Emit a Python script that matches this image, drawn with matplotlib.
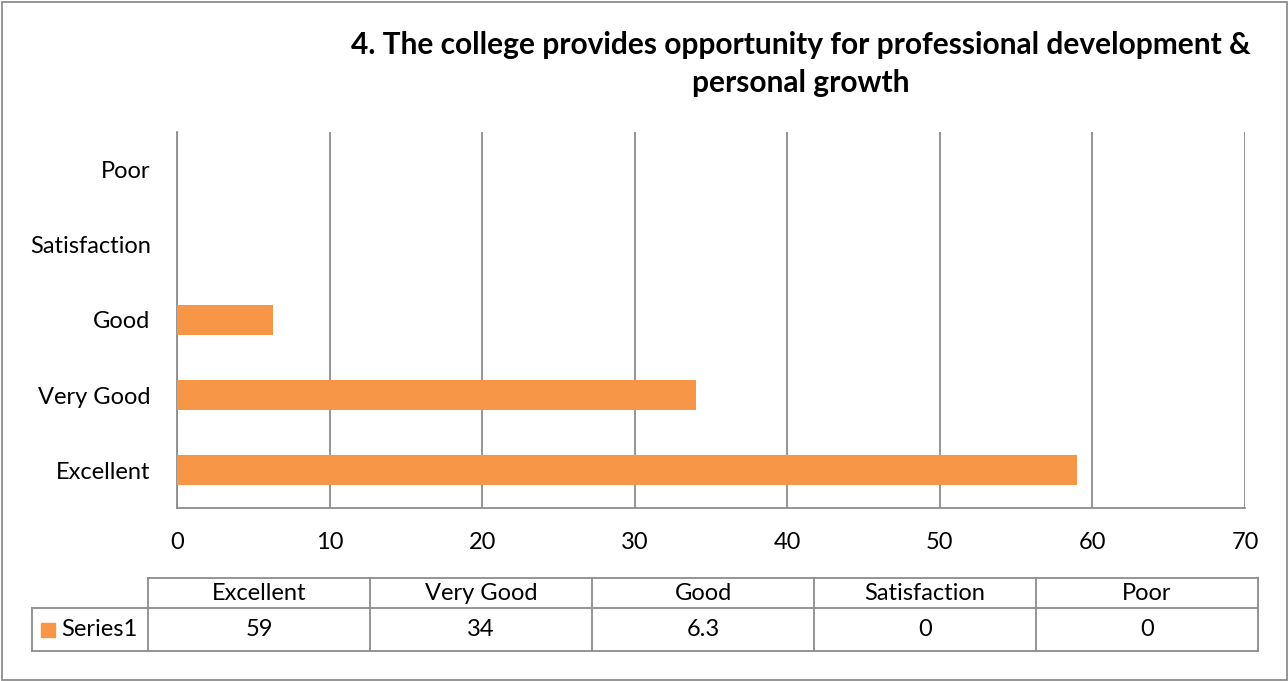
import matplotlib
matplotlib.use("Agg")
import matplotlib.pyplot as plt
from matplotlib.patches import Rectangle
from matplotlib.lines import Line2D

categories = ["Excellent", "Very Good", "Good", "Satisfaction", "Poor"]
values = [59, 34, 6.3, 0, 0]
value_labels = ["59", "34", "6.3", "0", "0"]
series_name = "Series1"
title = "4. The college provides opportunity for professional development &\npersonal growth"

W, H = 1288, 681
plt.rcParams['font.family'] = ['Lato', 'DejaVu Sans']
fig = plt.figure(figsize=(W / 100, H / 100), dpi=100)
orange = "#F79646"
gray = "#8C8C8C"
fs = 17

def fx(px):
    return px / W

def fy(py):
    return 1 - py / H

ax = fig.add_axes([fx(177), fy(508), fx(1245) - fx(177), fy(132) - fy(508)])
ax.barh(range(len(categories)), values, height=0.4, color=orange, zorder=3)
ax.set_xlim(0, 70)
ax.set_ylim(-0.5, len(categories) - 0.5)
ax.set_xticks(range(0, 71, 10))
ax.set_yticks(range(len(categories)))
ax.set_yticklabels(categories)
ax.xaxis.grid(True, color=gray, linewidth=1.3, zorder=0)
for s in ["top", "right"]:
    ax.spines[s].set_visible(False)
for s in ["left", "bottom"]:
    ax.spines[s].set_color(gray)
    ax.spines[s].set_linewidth(1.3)
ax.tick_params(axis='both', length=0, labelsize=fs, colors='black')
ax.tick_params(axis='x', pad=17)
ax.tick_params(axis='y', pad=19)

fig.text(fx(801), fy(64), title, ha='center', va='center', fontsize=21.5,
         fontweight='bold', linespacing=1.42)

# data table
col_edges = [148, 370, 592, 814, 1036, 1258]
row_top, row_mid, row_bot = 578, 608, 651
lw = 1.3
def hline(y, x0, x1):
    fig.add_artist(Line2D([fx(x0), fx(x1)], [fy(y), fy(y)], color=gray, lw=lw))
def vline(x, y0, y1):
    fig.add_artist(Line2D([fx(x), fx(x)], [fy(y0), fy(y1)], color=gray, lw=lw))
hline(row_top, col_edges[0], col_edges[-1])
hline(row_mid, 32, col_edges[-1])
hline(row_bot, 32, col_edges[-1])
vline(32, row_mid, row_bot)
for x in col_edges:
    vline(x, row_top, row_bot)
for i, (c, v) in enumerate(zip(categories, value_labels)):
    cx = (col_edges[i] + col_edges[i + 1]) / 2
    fig.text(fx(cx), fy((row_top + row_mid) / 2 + 1), c, ha='center', va='center', fontsize=fs)
    fig.text(fx(cx), fy((row_mid + row_bot) / 2), v, ha='center', va='center', fontsize=fs)
fig.add_artist(Rectangle((fx(41), fy(637)), fx(14), fy(623) - fy(637), color=orange,
                         transform=fig.transFigure))
fig.text(fx(61), fy((row_mid + row_bot) / 2), series_name, ha='left', va='center', fontsize=fs)

# outer border
fig.add_artist(Rectangle((fx(1.5), fy(679.5)), fx(1285), fy(1.5) - fy(679.5), fill=False,
                         edgecolor=gray, lw=1.3, transform=fig.transFigure))

fig.savefig("out.png", dpi=100)
